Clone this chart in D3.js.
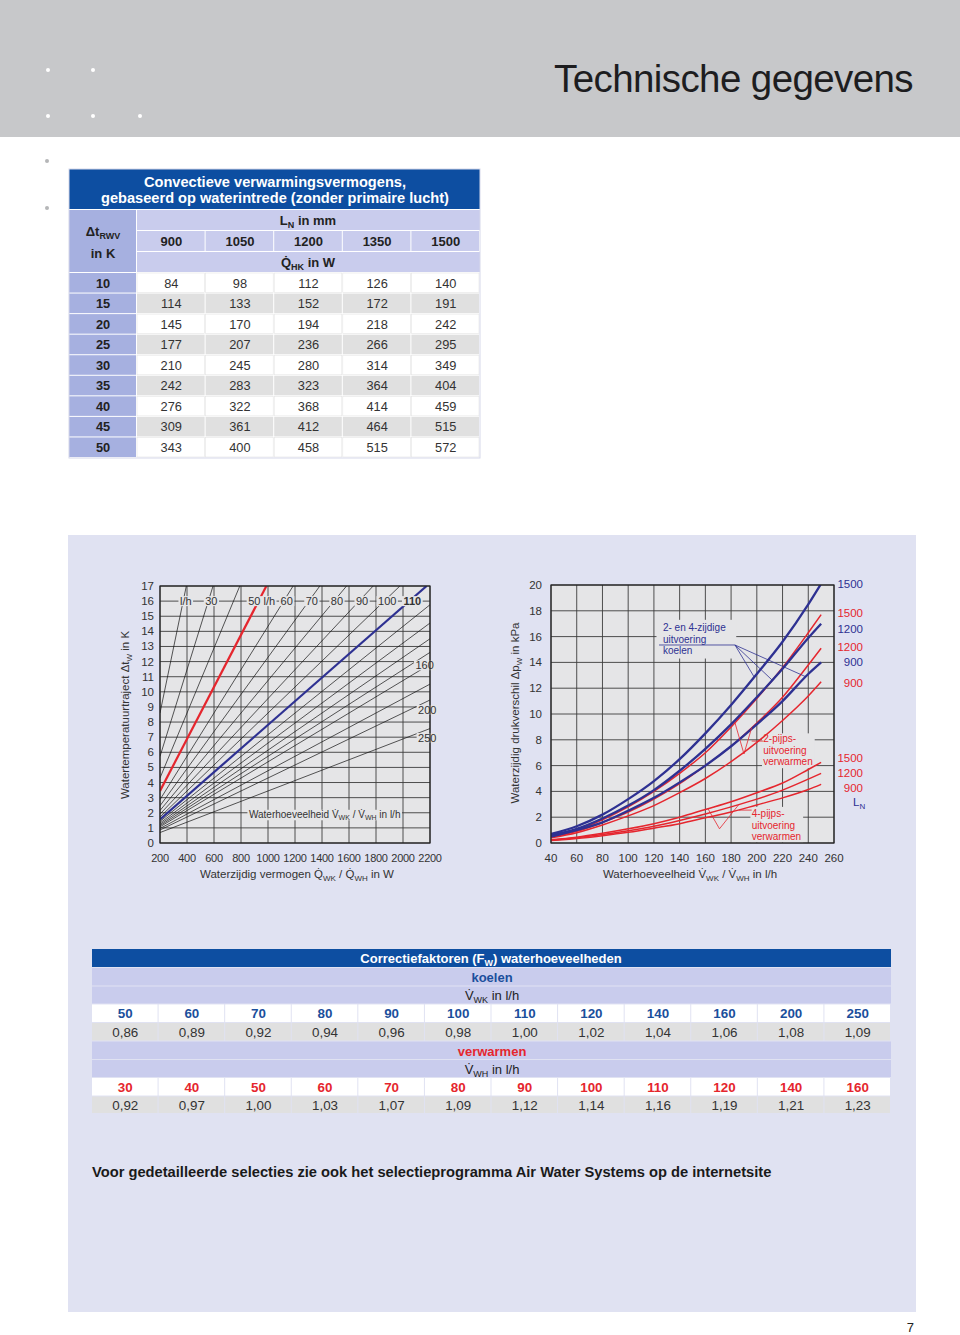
<!DOCTYPE html>
<html><head><meta charset="utf-8">
<script src="https://cdn.jsdelivr.net/npm/d3@7"></script>
<style>
body{margin:0;background:#fff}
svg{display:block}
text{font-family:"Liberation Sans",Arial,Helvetica,sans-serif}
</style>
</head><body>
<svg id="c" width="960" height="1335"></svg>
<script>
// ---------- DATA ----------
const tableLengths = ["900","1050","1200","1350","1500"];
const tableDeltaT = [10,15,20,25,30,35,40,45,50];
const q900  = [84,114,145,177,210,242,276,309,343];
const q1050 = [98,133,170,207,245,283,322,361,400];
const q1200 = [112,152,194,236,280,323,368,412,458];
const q1350 = [126,172,218,266,314,364,414,464,515];
const q1500 = [140,191,242,295,349,404,459,515,572];

// left chart
const powerTicks = [200,400,600,800,1000,1200,1400,1600,1800,2000,2200];
const deltaTTicks = [0,1,2,3,4,5,6,7,8,9,10,11,12,13,14,15,16,17];
const flowRates   = [20,30,40,50,60,70,80,90,100,110,120,130,140,150,160,180,200,250];
const flowStartDt = [8.60,5.73,4.30,3.44,2.87,2.46,2.15,1.91,1.72,1.56,1.43,1.32,1.23,1.15,1.07,0.96,0.86,0.69];
const flowEndQ    = [395,593,791,988,1186,1384,1582,1779,1977,2175,2200,2200,2200,2200,2200,2200,2200,2200];
const flowEndDt   = [17,17,17,17,17,17,17,17,17,17,15.76,14.55,13.51,12.61,11.82,10.51,9.46,7.57];
const topLabels   = ["30","60","70","80","90","100","110"];
const topLabelFlow= [30,60,70,80,90,100,110];
const sideLabels  = ["160","200","250"];
const sideLabelQ  = [2160,2180,2180];
const sideLabelDt = [11.75,8.8,6.95];

// right chart
const flowTicks = [40,60,80,100,120,140,160,180,200,220,240,260];
const dpTicks   = [0,2,4,6,8,10,12,14,16,18,20];
const curveFlow = [40,60,80,100,120,140,160,180,200,220,240,250];
const koelen1500 = [0.7,1.3,2.2,3.4,4.8,6.5,8.5,10.7,13.1,15.6,18.5,20.1];
const koelen1200 = [0.6,1.1,1.9,2.9,4.1,5.6,7.3,9.2,11.3,13.5,15.9,17.0];
const koelen900  = [0.5,1.0,1.6,2.5,3.5,4.7,6.0,7.5,9.2,11.0,13.1,14.0];
const verw2p1500 = [0.5,1.0,1.8,2.8,4.0,5.4,7.0,9.0,11.2,13.6,16.3,17.7];
const verw2p1200 = [0.45,0.9,1.6,2.4,3.4,4.6,6.0,7.5,9.3,11.3,13.8,15.1];
const verw2p900  = [0.4,0.8,1.4,2.1,2.9,3.9,5.0,6.3,7.8,9.5,11.4,12.5];
const verw4p1500 = [0.25,0.45,0.75,1.1,1.5,2.0,2.6,3.2,3.9,4.65,5.7,6.25];
const verw4p1200 = [0.22,0.4,0.65,0.95,1.3,1.75,2.25,2.8,3.4,4.1,4.95,5.4];
const verw4p900  = [0.2,0.35,0.57,0.83,1.15,1.5,1.95,2.4,2.95,3.5,4.15,4.55];
const endLabels   = ["1500","1500","1200","1200","900","900","1500","1200","900"];
const endLabelDp  = [20.1,17.8,16.6,15.2,14.0,12.4,6.6,5.4,4.3];
const endLabelRed = [false,true,false,true,false,true,true,true,true];

// correction table
const koelFlows = ["50","60","70","80","90","100","110","120","140","160","200","250"];
const koelFactors = ["0,86","0,89","0,92","0,94","0,96","0,98","1,00","1,02","1,04","1,06","1,08","1,09"];
const verwFlows = ["30","40","50","60","70","80","90","100","110","120","140","160"];
const verwFactors = ["0,92","0,97","1,00","1,03","1,07","1,09","1,12","1,14","1,16","1,19","1,21","1,23"];

// ---------- STYLE ----------
const C = {
  header:"#c7c8ca", titleBlue:"#0d4ea1", leftCol:"#a6b0e0", lav:"#c9cced",
  gray:"#e0e0e0", panel:"#e0e2f2", plot:"#e5e5e7", navy:"#2e3192", red:"#e5262e",
  text:"#333", blueText:"#1b4f9c"
};
const svg = d3.select("#c");

// ---------- PAGE HEADER ----------
svg.append("rect").attr("x",0).attr("y",0).attr("width",960).attr("height",137).attr("fill",C.header);
[[48,70],[93,70],[48,116],[93,116],[140,116]].forEach(p=>{
  svg.append("circle").attr("cx",p[0]).attr("cy",p[1]).attr("r",2).attr("fill","#fff");
});
[[47,161],[47,208]].forEach(p=>{
  svg.append("circle").attr("cx",p[0]).attr("cy",p[1]).attr("r",2).attr("fill","#b5b6b8");
});
svg.append("text").attr("x",913).attr("y",92).attr("text-anchor","end")
  .attr("font-size",38.5).attr("fill","#1d1d1f").attr("letter-spacing",-0.6)
  .text("Technische gegevens");

// ---------- TOP TABLE ----------
const tb = svg.append("g");
const colX = d3.scaleBand().domain(tableLengths).range([137,480]);
tb.append("rect").attr("x",69).attr("y",169).attr("width",411).attr("height",40).attr("fill",C.titleBlue);
tb.append("text").attr("x",275).attr("y",187).attr("text-anchor","middle").attr("font-size",14.6)
  .attr("font-weight","bold").attr("fill","#fff").text("Convectieve verwarmingsvermogens,");
tb.append("text").attr("x",275).attr("y",203).attr("text-anchor","middle").attr("font-size",14.6)
  .attr("font-weight","bold").attr("fill","#fff").text("gebaseerd op waterintrede (zonder primaire lucht)");
// left header cell
tb.append("rect").attr("x",69).attr("y",210).attr("width",67).attr("height",62).attr("fill",C.leftCol);
const dl = tb.append("text").attr("x",103).attr("y",236).attr("text-anchor","middle").attr("font-size",13).attr("font-weight","bold").attr("fill","#222");
dl.append("tspan").text("\u0394t");
dl.append("tspan").attr("font-size",9).attr("dy",3).text("RWV");
tb.append("text").attr("x",103).attr("y",258).attr("text-anchor","middle").attr("font-size",13).attr("font-weight","bold").attr("fill","#222").text("in K");
// header rows
tb.append("rect").attr("x",137).attr("y",210).attr("width",343).attr("height",20).attr("fill",C.lav);
const ln = tb.append("text").attr("x",308).attr("y",225).attr("text-anchor","middle").attr("font-size",13).attr("font-weight","bold").attr("fill","#222");
ln.append("tspan").text("L");
ln.append("tspan").attr("font-size",9).attr("dy",3).text("N");
ln.append("tspan").attr("dy",-3).text(" in mm");
tableLengths.forEach(l=>{
  tb.append("rect").attr("x",colX(l)).attr("y",231).attr("width",colX.bandwidth()-1).attr("height",20).attr("fill",C.lav);
  tb.append("text").attr("x",colX(l)+colX.bandwidth()/2).attr("y",246).attr("text-anchor","middle")
    .attr("font-size",13).attr("font-weight","bold").attr("fill","#222").text(l);
});
tb.append("rect").attr("x",137).attr("y",252).attr("width",343).attr("height",20).attr("fill",C.lav);
const qh = tb.append("text").attr("x",308).attr("y",267).attr("text-anchor","middle").attr("font-size",13).attr("font-weight","bold").attr("fill","#222");
qh.append("tspan").text("Q\u0307");
qh.append("tspan").attr("font-size",9).attr("dy",3).text("HK");
qh.append("tspan").attr("dy",-3).text(" in W");
// data rows
const rowY = d3.scaleBand().domain(tableDeltaT).range([273,458]);
const cols = [q900,q1050,q1200,q1350,q1500];
tableDeltaT.forEach((dt,i)=>{
  const y = rowY(dt), h = rowY.bandwidth()-1;
  tb.append("rect").attr("x",69).attr("y",y).attr("width",67).attr("height",h).attr("fill",C.leftCol);
  tb.append("text").attr("x",103).attr("y",y+14.5).attr("text-anchor","middle").attr("font-size",12.8)
    .attr("font-weight","bold").attr("fill","#222").text(dt);
  tableLengths.forEach((l,j)=>{
    tb.append("rect").attr("x",colX(l)).attr("y",y).attr("width",colX.bandwidth()-1).attr("height",h)
      .attr("fill", i%2 ? C.gray : "#fff").attr("stroke", i%2 ? "none" : "#e4e4e4").attr("stroke-width",0.6);
    tb.append("text").attr("x",colX(l)+colX.bandwidth()/2).attr("y",y+14.5).attr("text-anchor","middle")
      .attr("font-size",12.8).attr("fill",C.text).text(cols[j][i]);
  });
});
tb.append("rect").attr("x",69).attr("y",169).attr("width",411).attr("height",289).attr("fill","none").attr("stroke","#d6d8ea").attr("stroke-width",1);

// ---------- PANEL ----------
svg.append("rect").attr("x",68).attr("y",535).attr("width",848).attr("height",777).attr("fill",C.panel);

// ---------- LEFT CHART ----------
const xQ = d3.scaleLinear().domain([200,2200]).range([160,430]);
const yT = d3.scaleLinear().domain([0,17]).range([843,586]);
const L = svg.append("g");
L.append("rect").attr("x",160).attr("y",586).attr("width",270).attr("height",257).attr("fill",C.plot);
L.append("defs").append("clipPath").attr("id","clipL").append("rect").attr("x",160).attr("y",586).attr("width",270).attr("height",257);
L.selectAll(".gv").data(powerTicks).join("line").attr("x1",d=>xQ(d)).attr("x2",d=>xQ(d)).attr("y1",586).attr("y2",843)
  .attr("stroke","#3c3c3c").attr("stroke-width",0.9);
L.selectAll(".gh").data(deltaTTicks).join("line").attr("y1",d=>yT(d)).attr("y2",d=>yT(d)).attr("x1",160).attr("x2",430)
  .attr("stroke","#3c3c3c").attr("stroke-width",0.9);
const gl = L.append("g").attr("clip-path","url(#clipL)");
flowRates.forEach((v,i)=>{
  const hl = v===50 || v===110;
  gl.append("line").attr("x1",xQ(200)).attr("y1",yT(flowStartDt[i])).attr("x2",xQ(flowEndQ[i])).attr("y2",yT(flowEndDt[i]))
    .attr("stroke", v===50 ? C.red : v===110 ? C.navy : "#111").attr("stroke-width", hl ? 2.2 : 0.7);
});
// labels with background
function bgLabel(g, x, y, txt, opts={}){
  const t = g.append("text").attr("x",x).attr("y",y).attr("text-anchor",opts.anchor||"middle")
    .attr("font-size",opts.size||11).attr("fill",opts.fill||C.text).attr("font-weight",opts.bold?"bold":"normal");
  if (typeof txt === "function") txt(t); else t.text(txt);
  const bb = t.node().getBBox();
  g.insert("rect", function(){return t.node();}).attr("x",bb.x-1.5).attr("y",bb.y+1).attr("width",bb.width+3).attr("height",bb.height-2)
    .attr("fill",opts.bg||C.plot);
  return t;
}
const lg = L.append("g");
const topDt = 16;
bgLabel(lg, xQ(1.163*21*topDt), yT(topDt)+4, "l/h");
topLabelFlow.forEach((v,i)=>{
  bgLabel(lg, xQ(1.163*v*topDt)+3, yT(topDt)+4, topLabels[i], {bold: v===110});
});
bgLabel(lg, xQ(1.163*50*topDt)+3, yT(topDt)+4, "50 l/h");
sideLabels.forEach((s,i)=>{
  bgLabel(lg, xQ(sideLabelQ[i]), yT(sideLabelDt[i])+4, s);
});
bgLabel(lg, xQ(1420), yT(1.9)+4, t=>{
  t.append("tspan").text("Waterhoeveelheid V\u0307");
  t.append("tspan").attr("font-size",7).attr("dy",2).text("WK");
  t.append("tspan").attr("dy",-2).text(" / V\u0307");
  t.append("tspan").attr("font-size",7).attr("dy",2).text("WH");
  t.append("tspan").attr("dy",-2).text(" in l/h");
}, {size:10});
L.append("rect").attr("x",160).attr("y",586).attr("width",270).attr("height",257).attr("fill","none").attr("stroke","#222").attr("stroke-width",1.2);
// ticks
L.selectAll(".ty").data(deltaTTicks).join("text").attr("x",154).attr("y",d=>yT(d)+4).attr("text-anchor","end")
  .attr("font-size",11.5).attr("fill",C.text).text(d=>d);
L.selectAll(".tx").data(powerTicks).join("text").attr("x",d=>xQ(d)).attr("y",862).attr("text-anchor","middle")
  .attr("font-size",11).attr("letter-spacing",-0.3).attr("fill",C.text).text(d=>d);
const xtL = L.append("text").attr("x",297).attr("y",878).attr("text-anchor","middle").attr("font-size",11.5).attr("fill",C.text);
xtL.append("tspan").text("Waterzijdig vermogen  Q\u0307");
xtL.append("tspan").attr("font-size",8).attr("dy",3).text("WK");
xtL.append("tspan").attr("dy",-3).text(" / Q\u0307");
xtL.append("tspan").attr("font-size",8).attr("dy",3).text("WH");
xtL.append("tspan").attr("dy",-3).text(" in W");
const ytL = L.append("text").attr("transform","translate(129,715) rotate(-90)").attr("text-anchor","middle").attr("font-size",11.5).attr("fill",C.text);
ytL.append("tspan").text("Watertemperatuurtraject \u0394t");
ytL.append("tspan").attr("font-size",8).attr("dy",3).text("W");
ytL.append("tspan").attr("dy",-3).text(" in K");

// ---------- RIGHT CHART ----------
const xV = d3.scaleLinear().domain([40,260]).range([551,834]);
const yP = d3.scaleLinear().domain([0,20]).range([843,585]);
const R = svg.append("g");
R.append("rect").attr("x",551).attr("y",585).attr("width",283).attr("height",258).attr("fill",C.plot);
R.append("defs").append("clipPath").attr("id","clipR").append("rect").attr("x",551).attr("y",585).attr("width",283).attr("height",258);
R.selectAll(".gv").data(flowTicks).join("line").attr("x1",d=>xV(d)).attr("x2",d=>xV(d)).attr("y1",585).attr("y2",843)
  .attr("stroke","#3c3c3c").attr("stroke-width",0.9);
R.selectAll(".gh").data(dpTicks).join("line").attr("y1",d=>yP(d)).attr("y2",d=>yP(d)).attr("x1",551).attr("x2",834)
  .attr("stroke","#3c3c3c").attr("stroke-width",0.9);
// annotation boxes (background behind grid labels)
const ann = R.append("g");
function annText(g, x, y, lines, color){
  lines.forEach((s,i)=>{
    g.append("text").attr("x",x).attr("y",y+i*11.5).attr("font-size",10).attr("fill",color).text(s);
  });
}
// koelen label box
ann.append("rect").attr("x",xV(122)).attr("y",yP(17.3)).attr("width",xV(184)-xV(122)).attr("height",yP(14.3)-yP(17.3)).attr("fill",C.plot);
annText(ann, xV(127), yP(16.4), ["2- en 4-zijdige","uitvoering","koelen"], C.navy);
// 2-pijps label box
ann.append("rect").attr("x",xV(204)).attr("y",yP(8.5)).attr("width",xV(245)-xV(204)).attr("height",yP(5.8)-yP(8.5)).attr("fill",C.plot);
annText(ann, xV(205), yP(7.8), ["2-pijps-","uitvoering","verwarmen"], C.red);
// 4-pijps label box
ann.append("rect").attr("x",xV(195)).attr("y",yP(2.8)).attr("width",xV(236)-xV(195)).attr("height",yP(0.05)-yP(2.8)).attr("fill",C.plot);
annText(ann, xV(196), yP(2.0), ["4-pijps-","uitvoering","verwarmen"], C.red);

const line = d3.line().x((d,i)=>xV(curveFlow[i])).y(d=>yP(d)).curve(d3.curveMonotoneX);
const cg = R.append("g").attr("clip-path","url(#clipR)");
[verw4p1500,verw4p1200,verw4p900,verw2p1500,verw2p1200,verw2p900].forEach(s=>{
  cg.append("path").attr("d",line(s)).attr("fill","none").attr("stroke",C.red).attr("stroke-width",1.5);
});
[koelen1500,koelen1200,koelen900].forEach(s=>{
  cg.append("path").attr("d",line(s)).attr("fill","none").attr("stroke",C.navy).attr("stroke-width",2.3);
});
// pointer lines
function valAt(s, v){ return d3.scaleLinear().domain(curveFlow).range(s)(v); }
function pointer(origin, targets, color, extra){
  targets.forEach(t=>{
    R.append("line").attr("x1",xV(origin[0])).attr("y1",yP(origin[1])).attr("x2",xV(t[0])).attr("y2",yP(valAt(t[1],t[0])))
      .attr("stroke",color).attr("stroke-width",0.8);
  });
  if (extra) R.append("line").attr("x1",xV(extra[0])).attr("y1",yP(extra[1])).attr("x2",xV(extra[2])).attr("y2",yP(extra[3]))
      .attr("stroke",color).attr("stroke-width",0.8);
}
pointer([183,15.35], [[198,koelen1500],[212,koelen1200],[238,koelen900]], C.navy, [124,15.35,183,15.35]);
pointer([190,6.9], [[183,verw2p1500],[196,verw2p1200]], C.red, [196,7.9,205,7.9]);
pointer([171,1.1], [[162,verw4p1500],[186,verw4p1200]], C.red, [186,2.55,196,2.55]);

R.append("rect").attr("x",551).attr("y",585).attr("width",283).attr("height",258).attr("fill","none").attr("stroke","#222").attr("stroke-width",1.2);
R.selectAll(".ty").data(dpTicks).join("text").attr("x",542).attr("y",d=>yP(d)+4).attr("text-anchor","end")
  .attr("font-size",11.5).attr("fill",C.text).text(d=>d);
R.selectAll(".tx").data(flowTicks).join("text").attr("x",d=>xV(d)).attr("y",862).attr("text-anchor","middle")
  .attr("font-size",11.5).attr("fill",C.text).text(d=>d);
endLabels.forEach((s,i)=>{
  R.append("text").attr("x",863).attr("y",yP(endLabelDp[i])+4).attr("text-anchor","end").attr("font-size",11.5)
    .attr("fill", endLabelRed[i] ? C.red : C.navy).text(s);
});
const lnR = R.append("text").attr("x",853).attr("y",yP(3.2)+4).attr("font-size",11.5).attr("fill",C.navy);
lnR.append("tspan").text("L");
lnR.append("tspan").attr("font-size",8).attr("dy",3).text("N");
const xtR = R.append("text").attr("x",690).attr("y",878).attr("text-anchor","middle").attr("font-size",11.5).attr("fill",C.text);
xtR.append("tspan").text("Waterhoeveelheid V\u0307");
xtR.append("tspan").attr("font-size",8).attr("dy",3).text("WK");
xtR.append("tspan").attr("dy",-3).text(" / V\u0307");
xtR.append("tspan").attr("font-size",8).attr("dy",3).text("WH");
xtR.append("tspan").attr("dy",-3).text(" in l/h");
const ytR = R.append("text").attr("transform","translate(519,713) rotate(-90)").attr("text-anchor","middle").attr("font-size",11.5).attr("fill",C.text);
ytR.append("tspan").text("Waterzijdig drukverschil \u0394p");
ytR.append("tspan").attr("font-size",8).attr("dy",3).text("W");
ytR.append("tspan").attr("dy",-3).text(" in kPa");

// ---------- CORRECTION TABLE ----------
const B = svg.append("g");
const bx = d3.scaleBand().domain(d3.range(12)).range([92,891]);
const rowTop = [949,968,986.5,1004.5,1023,1041.5,1060,1078,1096.5,1114];
B.append("rect").attr("x",92).attr("y",949).attr("width",799).attr("height",18).attr("fill",C.titleBlue);
const bt = B.append("text").attr("x",491).attr("y",962.5).attr("text-anchor","middle").attr("font-size",13).attr("font-weight","bold").attr("fill","#fff");
bt.append("tspan").text("Correctiefaktoren (F");
bt.append("tspan").attr("font-size",9).attr("dy",3).text("W");
bt.append("tspan").attr("dy",-3).text(") waterhoeveelheden");
function lavRow(idx){ B.append("rect").attr("x",92).attr("y",rowTop[idx]).attr("width",799).attr("height",rowTop[idx+1]-rowTop[idx]-1).attr("fill",C.lav); }
function valRow(idx, vals, color, bold, bg){
  vals.forEach((v,i)=>{
    B.append("rect").attr("x",bx(i)).attr("y",rowTop[idx]).attr("width",bx.bandwidth()-1).attr("height",rowTop[idx+1]-rowTop[idx]-1).attr("fill",bg);
    B.append("text").attr("x",bx(i)+bx.bandwidth()/2).attr("y",rowTop[idx]+13.5).attr("text-anchor","middle")
      .attr("font-size",13.4).attr("font-weight",bold?"bold":"normal").attr("fill",color).text(v);
  });
}
lavRow(1); lavRow(2); lavRow(5); lavRow(6);
B.append("text").attr("x",492).attr("y",982).attr("text-anchor","middle").attr("font-size",13).attr("font-weight","bold").attr("fill",C.blueText).text("koelen");
const vk = B.append("text").attr("x",492).attr("y",1000).attr("text-anchor","middle").attr("font-size",13).attr("fill","#222");
vk.append("tspan").text("V\u0307"); vk.append("tspan").attr("font-size",9).attr("dy",3).text("WK"); vk.append("tspan").attr("dy",-3).text(" in l/h");
valRow(3, koelFlows, C.blueText, true, "#fff");
valRow(4, koelFactors, C.text, false, C.gray);
B.append("text").attr("x",492).attr("y",1055.5).attr("text-anchor","middle").attr("font-size",13).attr("font-weight","bold").attr("fill",C.red).text("verwarmen");
const vh = B.append("text").attr("x",492).attr("y",1074).attr("text-anchor","middle").attr("font-size",13).attr("fill","#222");
vh.append("tspan").text("V\u0307"); vh.append("tspan").attr("font-size",9).attr("dy",3).text("WH"); vh.append("tspan").attr("dy",-3).text(" in l/h");
valRow(7, verwFlows, C.red, true, "#fff");
valRow(8, verwFactors, C.text, false, C.gray);

// ---------- FOOTER ----------
svg.append("text").attr("x",92).attr("y",1177).attr("font-size",14.7).attr("font-weight","bold").attr("fill","#1a1a1a")
  .text("Voor gedetailleerde selecties zie ook het selectieprogramma Air Water Systems op de internetsite");
svg.append("text").attr("x",914).attr("y",1332).attr("text-anchor","end").attr("font-size",13).attr("fill","#222").text("7");
</script>
</body></html>
